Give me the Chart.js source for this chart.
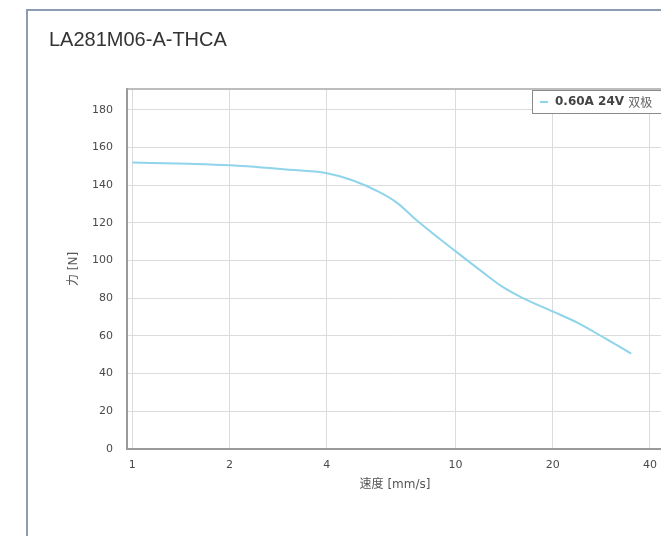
<!DOCTYPE html>
<html>
<head>
<meta charset="utf-8">
<script src="https://cdn.jsdelivr.net/npm/chart.js@4/dist/chart.umd.min.js"></script>
<style>
html, body { margin: 0; padding: 0; background: #fff; overflow: hidden; width: 661px; height: 536px; }
#card { position: absolute; left: 26px; top: 9px; width: 800px; height: 600px;
  border-left: 2px solid #8e9cb2; border-top: 2px solid #8e9cb2; }
#c { position: absolute; left: 0; top: 0; }
</style>
</head>
<body>
<div id="card"></div>
<canvas id="c" width="720" height="536"></canvas>
<script>
const chartTitle = 'LA281M06-A-THCA';
const speeds = [1, 1.5, 2, 3, 4, 4.8, 5.8, 6.6, 7.4, 8.5, 10, 12, 14, 16, 20, 24, 29, 35];
const forces = [152, 151.3, 150.5, 148.3, 146.3, 142.6, 136.4, 130.6, 123, 114.5, 105, 94.5, 86, 80.5, 73, 66.8, 58.8, 50.6];
const xTicks = [1, 2, 4, 10, 20, 40];
const yTicks = [0, 20, 40, 60, 80, 100, 120, 140, 160, 180];
const seriesLabel = '0.60A 24V';
const seriesSuffix = '双极';
const lineColor = '#8fd4ea';

const tickFont = { family: '"DejaVu Sans", sans-serif', size: 11 };
const titleFont = { family: '"DejaVu Sans", "Noto Sans CJK SC", sans-serif', size: 12 };

// thin outline on the top / right edge of the plot
const frame = {
  id: 'frame',
  beforeDatasetsDraw(chart) {
    const { ctx, chartArea: a } = chart;
    ctx.save();
    ctx.strokeStyle = '#a8a8a8';
    ctx.lineWidth = 1.5;
    ctx.beginPath();
    ctx.moveTo(a.left, a.top);
    ctx.lineTo(a.right, a.top);
    ctx.lineTo(a.right, a.bottom);
    ctx.stroke();
    ctx.restore();
  }
};

// legend drawn inside the plot, top right corner
const legendBox = {
  id: 'legendBox',
  afterDraw(chart) {
    const { ctx, chartArea: a } = chart;
    const ds = chart.data.datasets[0];
    ctx.save();
    ctx.font = 'bold 12px "DejaVu Sans", sans-serif';
    const w1 = ctx.measureText(seriesLabel + ' ').width;
    ctx.font = '12px "Noto Sans CJK SC", sans-serif';
    const w2 = ctx.measureText(seriesSuffix).width;
    const right = a.right - 2, top = a.top + 1, h = 23;
    const left = Math.round(right - (8 + 8 + 7 + w1 + w2 + 9));
    ctx.fillStyle = '#fff';
    ctx.fillRect(left, top, right - left, h);
    ctx.strokeStyle = '#8a8a8a';
    ctx.lineWidth = 1;
    ctx.strokeRect(left + 0.5, top + 0.5, right - left, h);
    const cy = top + h / 2 + 0.5;
    ctx.strokeStyle = ds.borderColor;
    ctx.lineWidth = 2;
    ctx.beginPath();
    ctx.moveTo(left + 8, cy);
    ctx.lineTo(left + 16, cy);
    ctx.stroke();
    ctx.textBaseline = 'middle';
    ctx.fillStyle = '#444';
    ctx.font = 'bold 12px "DejaVu Sans", sans-serif';
    ctx.fillText(seriesLabel + ' ', left + 23, cy);
    ctx.fillStyle = '#666';
    ctx.font = '12px "Noto Sans CJK SC", sans-serif';
    ctx.fillText(seriesSuffix, left + 23 + w1, cy);
    ctx.restore();
  }
};

new Chart(document.getElementById('c'), {
  type: 'line',
  data: {
    datasets: [{
      label: seriesLabel + ' ' + seriesSuffix,
      data: speeds.map((s, i) => ({ x: s, y: forces[i] })),
      borderColor: lineColor,
      borderWidth: 2,
      pointRadius: 0,
      cubicInterpolationMode: 'monotone',
      fill: false
    }]
  },
  options: {
    responsive: false,
    animation: false,
    devicePixelRatio: 1,
    layout: { padding: { left: 49, top: 0, right: 57, bottom: 0 } },
    plugins: {
      legend: { display: false },
      tooltip: { enabled: false },
      title: {
        display: true,
        text: chartTitle,
        align: 'start',
        color: '#333',
        font: { family: '"Liberation Sans", Arial, sans-serif', size: 20, weight: 'normal' },
        padding: { top: 28, bottom: 37 }
      }
    },
    scales: {
      x: {
        type: 'logarithmic',
        min: 0.963,
        max: 43.9,
        afterBuildTicks: s => { s.ticks = xTicks.map(v => ({ value: v })); },
        afterFit: s => { s.height = 87; },
        grid: { color: '#dcdcdc', drawTicks: false },
        border: { color: '#9a9a9a', width: 2 },
        ticks: { padding: 10, color: '#4a4a4a', font: tickFont, autoSkip: false, maxRotation: 0, callback: v => String(v) },
        title: { display: true, text: '速度 [mm/s]', color: '#555', font: titleFont, padding: { top: 4, bottom: 44 } }
      },
      y: {
        min: 0,
        max: 191,
        afterBuildTicks: s => { s.ticks = yTicks.map(v => ({ value: v })); },
        afterFit: s => { s.width = 78; },
        grid: { color: '#dcdcdc', drawTicks: false },
        border: { color: '#9a9a9a', width: 2 },
        ticks: { padding: 14, color: '#4a4a4a', font: tickFont },
        title: { display: true, text: '力 [N]', color: '#555', font: titleFont, padding: { top: 18, bottom: 0 } }
      }
    }
  },
  plugins: [frame, legendBox]
});
</script>
</body>
</html>
